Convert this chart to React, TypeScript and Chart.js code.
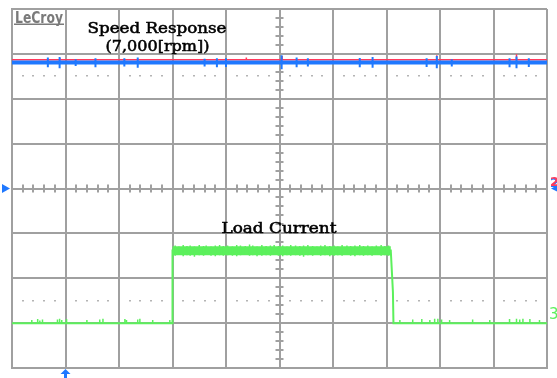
import React, { useEffect, useRef } from "react";
import { Chart, registerables } from "chart.js";

Chart.register(...registerables);

// Screen graticule: 10 horizontal x 8 vertical divisions, centre at (5, 0).
const xDivs = [0, 10];
const yDivs = [-4, 4];

// Channel 1: speed response (7,000 rpm), level in divisions.
const speedLevel = 2.81;
const speedRefLevel = 2.87;
const speedSpikeT = [0.67, 0.89, 1.19, 1.56, 2.1, 2.35, 3.6, 3.83, 4.0, 5.04, 5.32, 5.53, 6.5, 6.74, 7.75, 7.94, 8.22, 9.3, 9.43, 9.66];
const speedSpikeTop = [2.92, 2.93, 2.88, 2.9, 2.9, 2.92, 2.89, 2.9, 2.9, 2.97, 2.92, 2.9, 2.91, 2.93, 2.9, 2.95, 2.88, 2.9, 2.94, 2.9];
const speedSpikeBottom = [2.7, 2.68, 2.73, 2.7, 2.72, 2.69, 2.72, 2.7, 2.71, 2.66, 2.7, 2.72, 2.7, 2.69, 2.71, 2.68, 2.72, 2.7, 2.68, 2.71];
const refSpikeT = [0.9, 4.38, 5.05, 7.94, 9.43];
const refSpikeTop = [2.9, 2.92, 2.95, 2.97, 2.99];

// Channel 3: load current trace (time in divisions, level in divisions).
const loadT = [0, 3.0, 3.0, 7.08, 7.12, 7.13, 10];
const loadV = [-3.0, -3.0, -1.38, -1.38, -2.3, -3.0, -3.0];
const loadHighStart = 3.0;
const loadHighEnd = 7.08;
const loadHigh = -1.385;
// Noise on the loaded plateau: time, upper edge, lower edge.
const bandSpikeT = [3.05, 3.12, 3.2, 3.27, 3.33, 3.41, 3.5, 3.58, 3.63, 3.72, 3.8, 3.88, 3.95, 4.03, 4.12, 4.2, 4.27, 4.36, 4.44, 4.5, 4.58, 4.67, 4.75, 4.83, 4.9, 4.98, 5.06, 5.14, 5.21, 5.3, 5.38, 5.45, 5.53, 5.62, 5.7, 5.77, 5.85, 5.94, 6.02, 6.09, 6.17, 6.26, 6.33, 6.41, 6.5, 6.57, 6.65, 6.73, 6.81, 6.9, 6.97, 7.04];
const bandSpikeTop = [-1.27, -1.29, -1.26, -1.28, -1.27, -1.29, -1.26, -1.28, -1.27, -1.29, -1.27, -1.26, -1.28, -1.27, -1.29, -1.26, -1.27, -1.28, -1.25, -1.27, -1.29, -1.26, -1.28, -1.27, -1.26, -1.28, -1.27, -1.29, -1.26, -1.27, -1.28, -1.27, -1.26, -1.28, -1.29, -1.27, -1.26, -1.28, -1.27, -1.29, -1.26, -1.27, -1.28, -1.27, -1.26, -1.28, -1.27, -1.29, -1.27, -1.26, -1.28, -1.27];
const bandSpikeBottom = [-1.5, -1.48, -1.51, -1.49, -1.5, -1.52, -1.49, -1.5, -1.48, -1.5, -1.51, -1.49, -1.5, -1.49, -1.5, -1.51, -1.49, -1.48, -1.5, -1.49, -1.51, -1.5, -1.49, -1.5, -1.48, -1.5, -1.51, -1.49, -1.5, -1.49, -1.5, -1.52, -1.49, -1.5, -1.48, -1.5, -1.49, -1.51, -1.5, -1.49, -1.5, -1.48, -1.5, -1.51, -1.49, -1.5, -1.49, -1.5, -1.48, -1.5, -1.49, -1.5];
// Noise on the unloaded level: time, peak.
const lowSpikeT = [0.37, 0.48, 0.52, 0.57, 0.85, 0.89, 0.93, 1.02, 1.4, 1.64, 1.7, 2.11, 2.14, 2.35, 2.39, 2.63, 2.95, 7.25, 7.49, 7.66, 7.81, 7.9, 7.96, 8.03, 8.18, 8.61, 8.93, 9.3, 9.43, 9.49, 9.55, 9.68, 9.86];
const lowSpikeTop = [-2.93, -2.91, -2.94, -2.92, -2.92, -2.9, -2.93, -2.91, -2.93, -2.92, -2.9, -2.91, -2.93, -2.92, -2.9, -2.93, -2.93, -2.93, -2.92, -2.91, -2.93, -2.9, -2.9, -2.92, -2.93, -2.92, -2.93, -2.91, -2.9, -2.92, -2.9, -2.91, -2.93];

const GRID = "#a0a0a0";
const BLUE = "#1f78ff";
const RED = "#ff3a5c";
const GREEN = "#5cf05c";

type Pt = { x: number; y: number | null };

function spikes(ts: number[], tops: number[], bottoms: number[]): Pt[] {
  const out: Pt[] = [];
  ts.forEach((t, i) => {
    out.push({ x: t, y: tops[i] }, { x: t, y: bottoms[i] }, { x: t, y: null });
  });
  return out;
}

function fitText(ctx: CanvasRenderingContext2D, text: string, cx: number, baseline: number, width: number, font: string, color: string) {
  ctx.save();
  ctx.font = font;
  const w = ctx.measureText(text).width;
  ctx.translate(cx, baseline);
  ctx.scale(width / w, 1);
  ctx.textAlign = "center";
  ctx.textBaseline = "alphabetic";
  ctx.fillStyle = color;
  ctx.strokeStyle = color;
  ctx.lineWidth = 0.5;
  ctx.fillText(text, 0, 0);
  ctx.strokeText(text, 0, 0);
  ctx.restore();
}

const graticulePlugin = {
  id: "graticule",
  beforeDatasetsDraw(chart: any) {
    const { ctx, scales } = chart;
    const xs = scales.x;
    const ys = scales.y;
    const cx = xs.getPixelForValue(5);
    const cy = ys.getPixelForValue(0);
    ctx.save();
    ctx.strokeStyle = GRID;
    ctx.lineWidth = 2;
    // minor ticks on the centre cross
    for (let k = 1; k < 50; k++) {
      if (k % 5 === 0) continue;
      const px = Math.round(xs.getPixelForValue(k * 0.2));
      ctx.beginPath();
      ctx.moveTo(px, cy - 4);
      ctx.lineTo(px, cy + 4);
      ctx.stroke();
    }
    for (let k = -19; k < 20; k++) {
      if (k % 5 === 0) continue;
      const py = Math.round(ys.getPixelForValue(k * 0.2));
      ctx.beginPath();
      ctx.moveTo(cx - 4, py);
      ctx.lineTo(cx + 4, py);
      ctx.stroke();
    }
    // dotted rows at +/-2.5 divisions
    ctx.fillStyle = "#b4b4b4";
    [2.5, -2.5].forEach((v) => {
      const py = Math.round(ys.getPixelForValue(v));
      for (let k = 1; k < 50; k++) {
        if (k % 5 === 0) continue;
        const px = Math.round(xs.getPixelForValue(k * 0.2));
        ctx.fillRect(px - 1, py - 1, 2, 1.5);
      }
    });
    ctx.restore();
  },
  afterDraw(chart: any) {
    const { ctx, scales } = chart;
    const xs = scales.x;
    const ys = scales.y;
    const top = chart.chartArea.top;
    const left = chart.chartArea.left;
    const right = chart.chartArea.right;
    const bottom = chart.chartArea.bottom;

    // logo
    ctx.save();
    ctx.font = "bold 15px 'DejaVu Sans'";
    ctx.fillStyle = "#7a7a7a";
    ctx.textBaseline = "alphabetic";
    ctx.textAlign = "left";
    const lw = ctx.measureText("LeCroy").width;
    ctx.translate(left + 3, top + 13.5);
    ctx.scale(48 / lw, 1);
    ctx.fillText("LeCroy", 0, 0);
    ctx.restore();
    ctx.fillStyle = "#7a7a7a";
    ctx.fillRect(left + 2, top + 14.5, 50, 1.5);

    // annotations
    const serif = "14px 'DejaVu Serif'";
    fitText(ctx, "Speed Response", xs.getPixelForValue(2.71), ys.getPixelForValue(3.47), 139, serif, "#000");
    fitText(ctx, "(7,000[rpm])", xs.getPixelForValue(2.72), ys.getPixelForValue(3.07), 104, serif, "#000");
    fitText(ctx, "Load Current", xs.getPixelForValue(4.99), ys.getPixelForValue(-1.0), 115, serif, "#000");

    // channel / trigger markers
    const cy = ys.getPixelForValue(0);
    ctx.fillStyle = BLUE;
    ctx.beginPath();
    ctx.moveTo(2, cy - 4.5);
    ctx.lineTo(10, cy);
    ctx.lineTo(2, cy + 4.5);
    ctx.closePath();
    ctx.fill();

    const tx = xs.getPixelForValue(1);
    ctx.beginPath();
    ctx.moveTo(tx, bottom + 1);
    ctx.lineTo(tx + 5, bottom + 6);
    ctx.lineTo(tx - 5, bottom + 6);
    ctx.closePath();
    ctx.fill();
    ctx.fillRect(tx - 1.5, bottom + 5, 3, 6);

    ctx.beginPath();
    ctx.moveTo(right + 4, cy);
    ctx.lineTo(right + 10, cy - 3);
    ctx.lineTo(right + 10, cy + 3);
    ctx.closePath();
    ctx.fill();

    ctx.save();
    ctx.font = "bold 13px 'DejaVu Sans'";
    ctx.textAlign = "left";
    ctx.textBaseline = "alphabetic";
    ctx.fillStyle = BLUE;
    ctx.fillText("2", right + 3, cy - 2);
    ctx.fillStyle = RED;
    ctx.fillText("2", right + 3, cy - 3);
    ctx.font = "15px 'DejaVu Sans'";
    ctx.fillStyle = GREEN;
    ctx.fillText("3", right + 2, ys.getPixelForValue(-3) - 4);
    ctx.restore();
  },
};

export default function App() {
  const ref = useRef<HTMLCanvasElement | null>(null);

  useEffect(() => {
    document.body.style.margin = "0";
    const canvas = ref.current;
    if (!canvas) return;

    const loadData: Pt[] = loadT.map((t, i) => ({ x: t, y: loadV[i] }));
    // Datasets listed top-most first (Chart.js paints index 0 last).
    const chart = new Chart(canvas, {
      type: "line",
      data: {
        datasets: [
          {
            data: spikes(speedSpikeT, speedSpikeTop, speedSpikeBottom),
            borderColor: BLUE,
            borderWidth: 2,
          },
          {
            data: [{ x: xDivs[0], y: speedLevel }, { x: xDivs[1], y: speedLevel }],
            borderColor: BLUE,
            borderWidth: 4,
          },
          {
            data: [{ x: xDivs[0], y: speedRefLevel }, { x: xDivs[1], y: speedRefLevel }, { x: null as any, y: null }, ...spikes(refSpikeT, refSpikeTop, refSpikeT.map(() => speedRefLevel))],
            borderColor: RED,
            borderWidth: 1.5,
          },
          {
            data: spikes(bandSpikeT, bandSpikeTop, bandSpikeBottom),
            borderColor: GREEN,
            borderWidth: 1.5,
          },
          {
            data: [{ x: loadHighStart, y: loadHigh }, { x: loadHighEnd, y: loadHigh }],
            borderColor: GREEN,
            borderWidth: 9,
          },
          {
            data: loadData,
            borderColor: GREEN,
            borderWidth: 2,
          },
          {
            data: spikes(lowSpikeT, lowSpikeTop, lowSpikeT.map(() => -3.0)),
            borderColor: GREEN,
            borderWidth: 1.5,
          },
        ],
      },
      options: {
        animation: false,
        responsive: false,
        devicePixelRatio: 1,
        parsing: false as any,
        elements: { point: { radius: 0 }, line: { tension: 0, borderCapStyle: "butt" } },
        layout: { padding: { left: 12, top: 9, right: 10, bottom: 10 } },
        plugins: { legend: { display: false }, tooltip: { enabled: false } },
        scales: {
          x: {
            type: "linear",
            min: xDivs[0],
            max: xDivs[1],
            ticks: { display: false, stepSize: 1 },
            grid: { color: GRID, lineWidth: 2, drawTicks: false },
            border: { display: true, color: GRID, width: 2 },
          },
          y: {
            type: "linear",
            min: yDivs[0],
            max: yDivs[1],
            ticks: { display: false, stepSize: 1 },
            grid: { color: GRID, lineWidth: 2, drawTicks: false },
            border: { display: true, color: GRID, width: 2 },
          },
        },
      },
      plugins: [graticulePlugin],
    });
    return () => chart.destroy();
  }, []);

  return (
    <div style={{ position: "fixed", left: 0, top: 0, width: 557, height: 378, background: "#fff" }}>
      <canvas ref={ref} width={557} height={378} style={{ display: "block" }} />
    </div>
  );
}
